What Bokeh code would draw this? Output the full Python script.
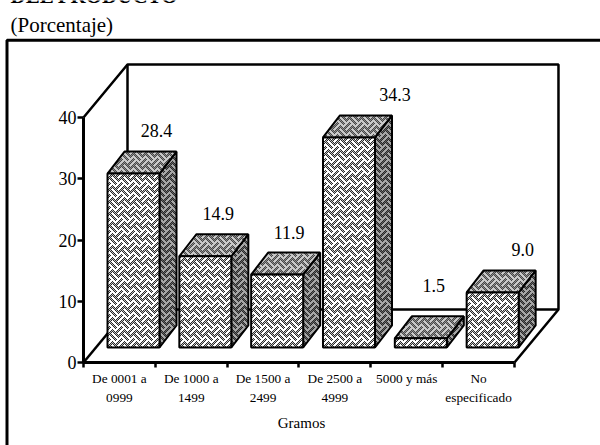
import base64, struct, zlib
from bokeh.plotting import figure
from bokeh.models import ColumnDataSource, ImageURLTexture, LinearAxis, FixedTicker, GlobalInlineStyleSheet
from bokeh.embed import file_html
from bokeh.resources import INLINE
from bokeh.core.properties import value

# ---- data ----
categories = ["De 0001 a\n0999", "De 1000 a\n1499", "De 1500 a\n2499", "De 2500 a\n4999", "5000 y más", "No\nespecificado"]
percent = [28.4, 14.9, 11.9, 34.3, 1.5, 9.0]
y_ticks = [0, 10, 20, 30, 40]
title_text = "DEL PRODUCTO"
subtitle_text = "(Porcentaje)"
axis_text = "Gramos"

# ---- layout ----
W, H = 600, 445
X0, Y0 = 83, 362          # pixel position of the plot origin
UX, UY = 71.83, 6.125     # pixels per category, per percent
def dx(px): return px / UX
def dy(px): return px / UY
def sx(px): return (px - X0) / UX
def sy(py): return (Y0 - py) / UY

BAR_LEFT, BAR_W = dx(24), dx(52)
BASE = dy(15)
DX, DY = dx(17), dy(22)
WALL_X, WALL_Y = dx(44), dy(53)
LABEL_X = [23, 13, 12, 46, 13, 30]
LABEL_Y = [21, 21, 20, 21, 31, 21]
SERIF = "Liberation Serif"

# ---- weave texture ----
def png(rows):
    raw = b"".join(b"\0" + bytes(c for px in row for c in px) for row in rows)
    def chunk(t, d):
        return struct.pack(">I", len(d)) + t + d + struct.pack(">I", zlib.crc32(t + d))
    h, w = len(rows), len(rows[0])
    return b"\x89PNG\r\n\x1a\n" + chunk(b"IHDR", struct.pack(">IIBBBBB", w, h, 8, 2, 0, 0, 0)) + chunk(b"IDAT", zlib.compress(raw)) + chunk(b"IEND", b"")

def weave(light, a, b):
    rows = []
    n = 24
    for y in range(n):
        row = []
        for x in range(n):
            u, v = x + y, x - y + n
            if ((u // 12) + (v // 12)) % 2 == 0:
                on = v % 6 < 3
            else:
                on = u % 6 < 3
            row.append(light if on else (a if (x + y) % 2 else b))
        rows.append(row)
    return "data:image/png;base64," + base64.b64encode(png(rows)).decode()

textures = {
    "front": ImageURLTexture(url=weave((255, 255, 255), (40, 40, 40), (190, 190, 190))),
    "top": ImageURLTexture(url=weave((200, 200, 200), (70, 70, 70), (140, 140, 140))),
    "side": ImageURLTexture(url=weave((165, 165, 165), (40, 40, 40), (100, 100, 100))),
}

p = figure(width=W, height=H, output_backend="svg", toolbar_location=None,
           x_range=(sx(0), sx(W)), y_range=(sy(H), sy(0)),
           min_border=0, outline_line_color=None, x_axis_type=None, y_axis_type=None,
           stylesheets=[GlobalInlineStyleSheet(css="html,body{margin:0;padding:0;overflow:hidden}")])
p.grid.visible = False
p.background_fill_color = "white"

# outer frame, cut by the page edge
p.line([sx(6.5), sx(6.5), sx(W + 5)], [sy(H + 5), sy(39.7), sy(39.7)], line_color="black", line_width=3)

# walls
p.line([0, WALL_X, 6 + WALL_X, 6 + WALL_X, 6], [40, 40 + WALL_Y, 40 + WALL_Y, WALL_Y, 0], line_color="black", line_width=2.5)
p.line([WALL_X, WALL_X, 6 + WALL_X], [40 + WALL_Y, WALL_Y, WALL_Y], line_color="black", line_width=2.5)
p.line([0, WALL_X], [0, WALL_Y], line_color="black", line_width=2.5)

# bars
lefts = [i + BAR_LEFT for i in range(len(percent))]
rights = [l + BAR_W for l in lefts]
tops = [BASE + v for v in percent]

src_side = ColumnDataSource(dict(
    xs=[[r, r + DX, r + DX, r] for r in rights],
    ys=[[BASE, BASE + DY, t + DY, t] for t in tops],
    hatch=["side"] * 6))
p.patches("xs", "ys", source=src_side, fill_color="#808080", line_color="black", line_width=2,
          hatch_pattern="hatch", hatch_extra=textures)
src_top = ColumnDataSource(dict(
    xs=[[l, l + DX, r + DX, r] for l, r in zip(lefts, rights)],
    ys=[[t, t + DY, t + DY, t] for t in tops],
    hatch=["top"] * 6))
p.patches("xs", "ys", source=src_top, fill_color="#a0a0a0", line_color="black", line_width=2,
          hatch_pattern="hatch", hatch_extra=textures)
src_front = ColumnDataSource(dict(
    left=lefts, right=rights, bottom=[BASE] * 6, top=tops, hatch=["front"] * 6))
p.quad(left="left", right="right", bottom="bottom", top="top", source=src_front,
       fill_color="white", line_color="black", line_width=2,
       hatch_pattern="hatch", hatch_extra=textures)

# value labels
p.text(x=[l + BAR_W / 2 + dx(o) for l, o in zip(lefts, LABEL_X)],
       y=[t + DY + dy(o) for t, o in zip(tops, LABEL_Y)],
       text=[f"{v:.1f}" for v in percent],
       text_font=value(SERIF), text_font_size="18px", text_align="center", text_baseline="middle", text_color="black")

# axes
yax = LinearAxis(fixed_location=0, bounds=(0, 40), ticker=FixedTicker(ticks=y_ticks),
                 axis_line_width=3, major_tick_line_width=2.5, major_tick_out=6, major_tick_in=0,
                 minor_tick_line_color=None, major_label_text_font=SERIF,
                 major_label_text_font_size="18px", major_label_standoff=1, major_label_text_color="black",
                 axis_line_color="black", major_tick_line_color="black")
p.add_layout(yax, "left")
xax = LinearAxis(fixed_location=0, bounds=(0, 6), ticker=FixedTicker(ticks=list(range(7))),
                 axis_line_width=3, major_tick_line_width=2.5, major_tick_out=5, major_tick_in=0,
                 minor_tick_line_color=None, major_label_overrides={i: "" for i in range(7)},
                 axis_line_color="black", major_tick_line_color="black")
p.add_layout(xax, "below")

# category labels, title texts
p.text(x=[i + 0.5 for i in range(6)], y=[sy(370)] * 6, text=categories,
       text_font=value(SERIF), text_font_size="13.3px", text_align="center", text_baseline="top",
       text_line_height=1.3, text_color="black")
p.text(x=[sx(301)], y=[sy(422)], text=[axis_text], text_font=value(SERIF), text_font_size="15px",
       text_align="center", text_baseline="middle", text_color="black")
p.text(x=[sx(10)], y=[sy(24)], text=[subtitle_text], text_font=value(SERIF), text_font_size="21px",
       text_align="left", text_baseline="middle", text_color="black")
p.text(x=[sx(10)], y=[sy(-5)], text=[title_text], text_font=value(SERIF), text_font_size="21px",
       text_font_style="bold", text_align="left", text_baseline="middle", text_color="black")

open("out.html", "w").write(file_html(p, INLINE))
